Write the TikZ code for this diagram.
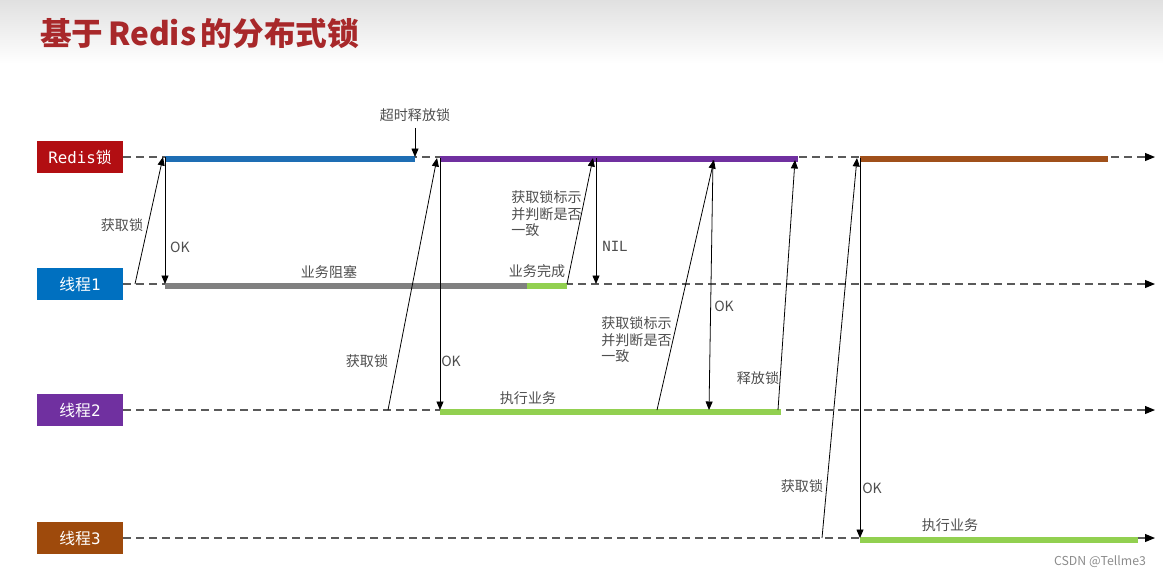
\documentclass[tikz,border=0pt]{standalone}
\usepackage{fontspec}
\setmainfont{Noto Sans CJK SC}
\setmonofont{DejaVu Sans Mono}
\usetikzlibrary{arrows.meta,positioning}
\definecolor{titlered}{RGB}{168,40,42}
\definecolor{redisred}{RGB}{178,14,18}
\definecolor{t1blue}{RGB}{0,112,192}
\definecolor{t2purple}{RGB}{112,48,160}
\definecolor{t3brown}{RGB}{158,74,12}
\definecolor{barblue}{RGB}{30,110,180}
\definecolor{barbrown}{RGB}{160,80,26}
\definecolor{bargreen}{RGB}{146,208,80}
\definecolor{bargray}{RGB}{128,128,128}
\definecolor{linegray}{RGB}{90,90,90}
\definecolor{labelgray}{RGB}{78,78,78}

\begin{document}
\begin{tikzpicture}[x=0.02cm,y=-0.02cm,
 lane/.style={fill=#1,text=white,minimum width=17.2mm,minimum height=6.4mm,inner sep=0pt,font=\fontsize{9}{10}\selectfont},
 lifeline/.style={draw=linegray,dash pattern=on 1.6mm off 1mm,line width=0.6pt,-{Triangle[length=2mm,width=1.6mm,color=black]}},
 bar/.style={line width=3pt},
 msg/.style={-{Triangle[length=1.7mm,width=1.4mm]},line width=0.45pt},
 lbl/.style={text=labelgray,font=\fontsize{8}{9.6}\selectfont,inner sep=0pt},
 multi/.style={lbl,align=left,anchor=north west}]
\useasboundingbox (0,0) rectangle (1163,576);
\shade[top color=black!12,bottom color=white] (0,0) rectangle (1163,64);
\node[anchor=west,text=titlered,font=\fontsize{18}{20}\bfseries] (title) at (34,33) {基于\hspace{0.15em}Redis\hspace{0.15em}的分布式锁};

\node[lane=redisred] (redis) at (80,157) {{\ttfamily Redis}锁};
\node[lane=t1blue] (t1) at (80,284) {线程{\ttfamily 1}};
\node[lane=t2purple] (t2) at (80,410) {线程{\ttfamily 2}};
\node[lane=t3brown] (t3) at (80,538) {线程{\ttfamily 3}};

\coordinate (rEnd) at (1155,157);
\coordinate (aEnd) at (1155,284);
\coordinate (bEnd) at (1155,410);
\coordinate (cEnd) at (1155,538);
\draw[lifeline] (redis.east) -- (rEnd);
\draw[lifeline] (t1.east) -- (aEnd);
\draw[lifeline] (t2.east) -- (bEnd);
\draw[lifeline] (t3.east) -- (cEnd);

\draw[bar,barblue] (165,159) -- (415,159);
\draw[bar,t2purple] (440,159) -- (798,159);
\draw[bar,barbrown] (860,159) -- (1108,159);
\draw[bar,bargray] (165,286) -- (527,286);
\draw[bar,bargreen] (527,286) -- (567,286);
\draw[bar,bargreen] (440,412) -- (781,412);
\draw[bar,bargreen] (860,540) -- (1138,540);

\coordinate (t1Get) at (135,284);
\coordinate (rGet1) at (163,157);
\coordinate (rOk1) at (165,157);
\coordinate (t1Ok) at (165,284);
\coordinate (rTimeout) at (415,157);
\coordinate (t2Get) at (388,410);
\coordinate (rGet2) at (437,158);
\coordinate (rOk2) at (440,158);
\coordinate (t2Ok) at (440,410);
\coordinate (t1Done) at (567,284);
\coordinate (rCheck1) at (593,158);
\coordinate (rNil) at (596,158);
\coordinate (t1Nil) at (596,284);
\coordinate (t2Check) at (657,410);
\coordinate (rCheck2) at (714,160);
\coordinate (rOk3) at (713,160);
\coordinate (t2Ok3) at (709,410);
\coordinate (t2Free) at (778,410);
\coordinate (rFree) at (795,160);
\coordinate (t3Get) at (822,538);
\coordinate (rGet3) at (857,158);
\coordinate (rOk4) at (860,158);
\coordinate (t3Ok) at (860,538);

\node[lbl] (timeout) at (415,115) {超时释放锁};
\draw[msg,shorten <=1.2mm] (timeout) -- (rTimeout);
\draw[msg] (t1Get) -- (rGet1);
\draw[msg] (rOk1) -- (t1Ok);
\draw[msg] (t2Get) -- (rGet2);
\draw[msg] (rOk2) -- (t2Ok);
\draw[msg] (t1Done) -- (rCheck1);
\draw[msg] (rNil) -- (t1Nil);
\draw[msg] (t2Check) -- (rCheck2);
\draw[msg] (rOk3) -- (t2Ok3);
\draw[msg] (t2Free) -- (rFree);
\draw[msg] (t3Get) -- (rGet3);
\draw[msg] (rOk4) -- (t3Ok);

\node[lbl] (get1) at (122,225) {获取锁};
\node[lbl] (ok1) at (180,247) {OK};
\node[lbl] (block) at (329,272) {业务阻塞};
\node[multi] (check1) at (511,190) {获取锁标示\\并判断是否\\一致};
\node[lbl] (done) at (537,271) {业务完成};
\node[lbl,font=\fontsize{8}{9.6}\ttfamily] (nil) at (615,246) {NIL};
\node[lbl] (get2) at (367,361) {获取锁};
\node[lbl] (ok2) at (451,361) {OK};
\node[lbl] (work2) at (528,398) {执行业务};
\node[multi] (check2) at (601,316) {获取锁标示\\并判断是否\\一致};
\node[lbl] (ok3) at (724,306) {OK};
\node[lbl] (free) at (758,378) {释放锁};
\node[lbl] (get3) at (802,486) {获取锁};
\node[lbl] (ok4) at (872,488) {OK};
\node[lbl] (work3) at (950,525) {执行业务};
\node[text=black!45,font=\fontsize{7}{8}\selectfont,inner sep=0pt] (mark) at (1100,562) {CSDN @Tellme3};
\end{tikzpicture}
\end{document}
